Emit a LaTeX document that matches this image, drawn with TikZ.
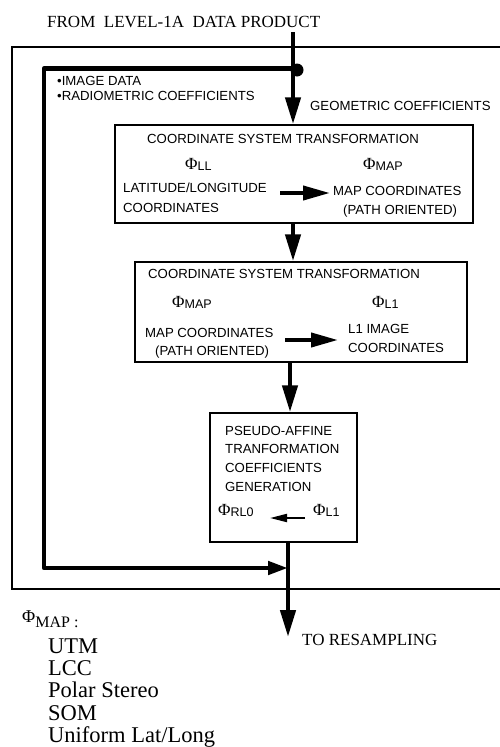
\documentclass[tikz,border=0pt]{standalone}
\usepackage{fontspec}
\setmainfont{Liberation Serif}
\setsansfont{Liberation Sans}
\usetikzlibrary{arrows.meta}

% Phi with a sans-serif subscript, as used inside the boxes
\newcommand\phisym[1]{{\rmfamily\fontsize{17}{17}\selectfont Φ}\raisebox{-0.35ex}{\sffamily\fontsize{12.5}{12.5}\selectfont #1}}

\tikzset{
  frameline/.style={line width=1.6pt},
  box/.style={draw, line width=1.5pt, inner sep=0pt},
  flow/.style={line width=4.5pt, -{Triangle[length=27pt,width=15pt]}},
  sideflow/.style={line width=4.5pt, -{Triangle[length=20pt,width=13pt]}},
  inflow/.style={line width=4pt, -{Triangle[length=27pt,width=14pt]}},
  smallflow/.style={line width=2pt, -{Triangle[length=17pt,width=8pt]}},
  lbl/.style={font=\sffamily\fontsize{13.2}{13.2}\selectfont, inner sep=0pt, anchor=base west},
  sym/.style={inner sep=0pt, anchor=base west},
  serif/.style={font=\rmfamily\fontsize{17}{17}\selectfont, inner sep=0pt, anchor=base west},
  legend/.style={font=\rmfamily\fontsize{22.5}{22.5}\selectfont, inner sep=0pt, anchor=base west},
}

\begin{document}
\begin{tikzpicture}[x=1pt, y=-1pt]
\useasboundingbox (0,0) rectangle (500,747);

% enclosing frame (open on the right)
\draw[frameline] (500,47) -- (12,47) -- (12,589) -- (500,589);

% processing boxes
\node[box, minimum width=358pt, minimum height=98pt]  (b1) at (294,174) {};
\node[box, minimum width=332pt, minimum height=100pt] (b2) at (301,312) {};
\node[box, minimum width=147pt, minimum height=129pt] (b3) at (283.5,477.5) {};

% input / output labels
\node[serif] (src) at (47,27) {FROM\ \ LEVEL-1A\ \ DATA PRODUCT};
\node[serif] (dst) at (302,645) {TO RESAMPLING};
\node[lbl] (img) at (57,85) {•IMAGE DATA};
\node[lbl] (rad) at (57,100) {•RADIOMETRIC COEFFICIENTS};
\node[lbl] (geo) at (310,110) {GEOMETRIC COEFFICIENTS};

% box 1
\node[lbl] (t1) at (147,143) {COORDINATE SYSTEM TRANSFORMATION};
\node[sym] (p1a) at (185,169) {\phisym{LL}};
\node[sym] (p1b) at (363,169) {\phisym{MAP}};
\node[lbl] (l1a) at (123,192) {LATITUDE/LONGITUDE};
\node[lbl] (l1b) at (123,212) {COORDINATES};
\node[lbl] (r1a) at (333,195) {MAP COORDINATES};
\node[lbl] (r1b) at (343,214) {(PATH ORIENTED)};
\coordinate (a1s) at (280,193);
\coordinate (a1e) at (330,193);
\draw[inflow] (a1s) -- (a1e);

% box 2
\node[lbl] (t2) at (148,278) {COORDINATE SYSTEM TRANSFORMATION};
\node[sym] (p2a) at (172,307) {\phisym{MAP}};
\node[sym] (p2b) at (372,307) {\phisym{L1}};
\node[lbl] (l2a) at (145,337) {MAP COORDINATES};
\node[lbl] (l2b) at (155,355) {(PATH ORIENTED)};
\node[lbl] (r2a) at (348,333) {L1 IMAGE};
\node[lbl] (r2b) at (348,352) {COORDINATES};
\coordinate (a2s) at (285,340);
\coordinate (a2e) at (338,340);
\draw[inflow] (a2s) -- (a2e);

% box 3
\node[lbl] (t3a) at (225,435) {PSEUDO-AFFINE};
\node[lbl] (t3b) at (225,453) {TRANFORMATION};
\node[lbl] (t3c) at (225,472) {COEFFICIENTS};
\node[lbl] (t3d) at (225,491) {GENERATION};
\node[sym] (p3a) at (218,515) {\phisym{RL0}};
\node[sym] (p3b) at (313,515) {\phisym{L1}};
\coordinate (a3s) at (305,518);
\coordinate (a3e) at (270,518);
\draw[smallflow] (a3s) -- (a3e);

% main data path
\coordinate (top) at (293,32);
\coordinate (tap) at (293,68.5);
\coordinate (corner1) at (44,68.5);
\coordinate (corner2) at (44,568);
\coordinate (merge) at (288,568);
\coordinate (out) at (288,637);

\draw[flow] (top) -- (top |- b1.north);
\draw[flow] (b1.south -| 293,0) -- (b2.north -| 293,0);
\draw[flow] (b2.south -| 290,0) -- (b3.north -| 290,0);
\draw[line width=4.5pt, line join=round] (tap) -- (corner1) -- (corner2) -- ++(10,0);
\draw[sideflow] (corner2) -- (merge);
\fill (297,70) circle (6.5pt);
\draw[flow] (b3.south -| out) -- (out);

% legend of map projections
\node[inner sep=0pt, anchor=base west] (leg) at (22,622)
  {{\rmfamily\fontsize{18}{18}\selectfont Φ}\raisebox{-5pt}{\rmfamily\fontsize{16}{16}\selectfont MAP :}};
\node[legend] (m1) at (48,653) {UTM};
\node[legend] (m2) at (48,675) {LCC};
\node[legend] (m3) at (48,697) {Polar Stereo};
\node[legend] (m4) at (48,720) {SOM};
\node[legend] (m5) at (48,742) {Uniform Lat/Long};
\end{tikzpicture}
\end{document}
